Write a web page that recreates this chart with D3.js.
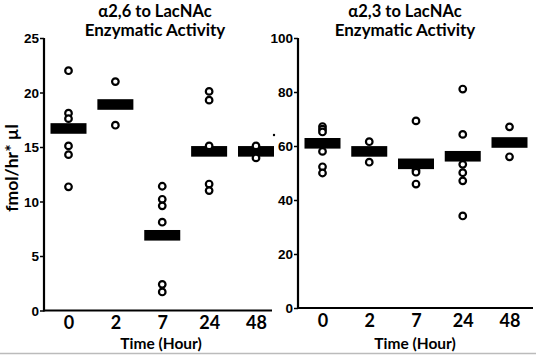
<!DOCTYPE html>
<html><head><meta charset="utf-8">
<script src="https://cdn.jsdelivr.net/npm/d3@7"></script>
<style>
html,body{margin:0;padding:0;background:#fff;}
svg{display:block;}
</style></head>
<body>
<svg id="chart" width="536" height="357"></svg>
<script>
const categories = ["0", "2", "7", "24", "48"];

// α2,6 to LacNAc (fmol/hr*µl): individual points per time point, and mean bars
const a26Points = [
  [22.0, 18.1, 17.6, 15.1, 14.3, 11.35],
  [21.0, 17.0],
  [11.4, 10.2, 9.6, 8.1, 2.4, 1.7],
  [20.1, 19.3, 15.1, 11.6, 11.0],
  [15.1, 14.0]
];
const a26Means = [16.7, 18.9, 6.9, 14.6, 14.6];
const a26Ticks = [0, 5, 10, 15, 20, 25];

// α2,3 to LacNAc
const a23Points = [
  [67.2, 66.2, 65.2, 58.0, 52.3, 50.0],
  [61.6, 54.0],
  [69.3, 51.0, 50.3, 45.9],
  [81.1, 64.3, 53.2, 50.1, 47.1, 34.1],
  [67.1, 56.0]
];
const a23Means = [61.0, 58.0, 53.4, 56.2, 61.3];
const a23Ticks = [0, 20, 40, 60, 80, 100];

const svg = d3.select("#chart");
const titleFont = "Lato, 'Open Sans', sans-serif";
const tickFont = "'Liberation Sans', Arial, sans-serif";

function panel(cfg) {
  const g = svg.append("g");
  const y = d3.scaleLinear().domain(cfg.yDomain).range([cfg.y0, cfg.y1]);
  const x = d3.scalePoint().domain(categories).range([cfg.xFirst, cfg.xLast]);

  // y axis
  const ya = g.append("g").attr("transform", `translate(${cfg.axisX},0)`)
    .call(d3.axisLeft(y).tickValues(cfg.ticks).tickSize(4).tickPadding(1));
  ya.select(".domain").remove();
  ya.selectAll(".tick line").attr("stroke", "#000").attr("stroke-width", 1.5);
  ya.selectAll(".tick text").attr("font-family", tickFont).attr("font-weight", "bold")
    .attr("font-size", 13.5).attr("fill", "#000").attr("dy", "0.36em");
  g.append("line").attr("x1", cfg.axisX).attr("x2", cfg.axisX)
    .attr("y1", cfg.y1).attr("y2", cfg.y0 + 1)
    .attr("stroke", "#000").attr("stroke-width", 2.2);

  // x axis
  const xa = g.append("g").attr("transform", `translate(0,${cfg.y0})`)
    .call(d3.axisBottom(x).tickSize(0).tickPadding(0));
  xa.select(".domain").remove();
  xa.selectAll(".tick text").attr("font-family", titleFont).attr("font-weight", "bold")
    .attr("font-size", 18).attr("fill", "#000").attr("dy", 0).attr("y", 18.5);
  g.append("line").attr("x1", cfg.axisX).attr("x2", cfg.xEnd)
    .attr("y1", cfg.y0).attr("y2", cfg.y0)
    .attr("stroke", "#000").attr("stroke-width", 2.2);

  // mean bars
  g.selectAll("rect.mean").data(cfg.means).join("rect").attr("class", "mean")
    .attr("x", (d, i) => x(categories[i]) - 18)
    .attr("width", 36)
    .attr("y", d => y(d) - 5.3)
    .attr("height", 10.6)
    .attr("fill", "#000");

  // points
  const pts = [];
  cfg.points.forEach((arr, i) => arr.forEach(v => pts.push({c: categories[i], v})));
  g.selectAll("circle.pt").data(pts).join("circle").attr("class", "pt")
    .attr("cx", d => x(d.c)).attr("cy", d => y(d.v)).attr("r", 3.3)
    .attr("fill", "#fff").attr("stroke", "#000").attr("stroke-width", 2.2);

  // titles (two lines)
  g.append("text").attr("x", cfg.titleX).attr("y", 16.5).attr("text-anchor", "middle")
    .attr("font-family", titleFont).attr("font-weight", "bold").attr("font-size", 16.5)
    .attr("fill", "#000").text(cfg.title1);
  g.append("text").attr("x", cfg.titleX).attr("y", 36).attr("text-anchor", "middle")
    .attr("font-family", titleFont).attr("font-weight", "bold").attr("font-size", 17)
    .attr("fill", "#000").text("Enzymatic Activity");

  g.append("text").attr("x", cfg.xTitleX).attr("y", 349).attr("text-anchor", "middle")
    .attr("font-family", titleFont).attr("font-weight", "bold").attr("font-size", 15.5)
    .attr("fill", "#000").text("Time (Hour)");
}

panel({
  yDomain: [0, 25], y0: 310.5, y1: 38, ticks: a26Ticks,
  xFirst: 68.5, xLast: 256, axisX: 44, xEnd: 272,
  means: a26Means, points: a26Points,
  title1: "α2,6 to LacNAc", titleX: 155, xTitleX: 161
});
panel({
  yDomain: [0, 100], y0: 308, y1: 38, ticks: a23Ticks,
  xFirst: 322.5, xLast: 509.5, axisX: 298, xEnd: 533,
  means: a23Means, points: a23Points,
  title1: "α2,3 to LacNAc", titleX: 405, xTitleX: 415
});

// y-axis label
svg.append("text").attr("transform", "translate(18,168) rotate(-90)")
  .attr("text-anchor", "middle").attr("font-family", titleFont).attr("font-weight", "bold")
  .attr("font-size", 17.5).attr("fill", "#000").text("fmol/hr* µl");

// stray dot and bottom rule present in the reference image
svg.append("circle").attr("cx", 274).attr("cy", 135).attr("r", 1.2).attr("fill", "#000");
svg.append("line").attr("x1", 0).attr("x2", 536).attr("y1", 353.5).attr("y2", 353.5)
  .attr("stroke", "#bbb").attr("stroke-width", 1.5);
</script>
</body></html>
